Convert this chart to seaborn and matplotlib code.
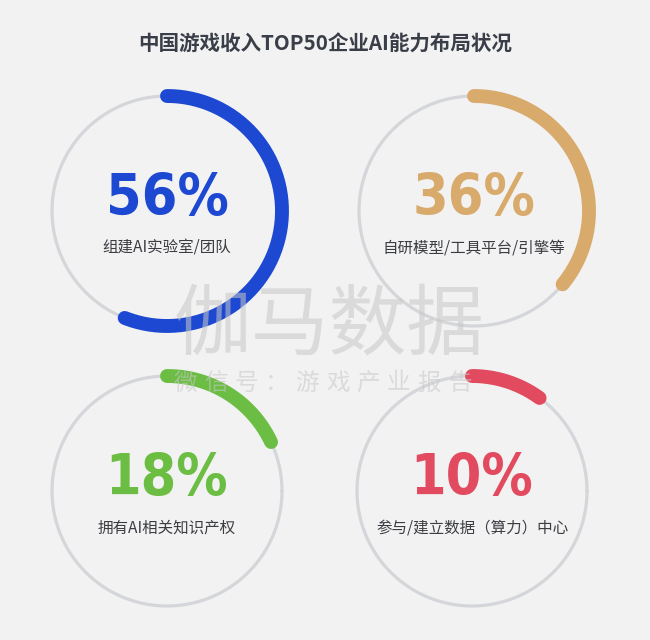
import numpy as np
import pandas as pd
import matplotlib
matplotlib.use("Agg")
import matplotlib.pyplot as plt
import seaborn as sns

# data
title = "中国游戏收入TOP50企业AI能力布局状况"
percents = [56, 36, 18, 10]
labels = ["组建AI实验室/团队", "自研模型/工具平台/引擎等",
          "拥有AI相关知识产权", "参与/建立数据（算力）中心"]
colors = ["#1d48d2", "#d8aa6c", "#6cbd43", "#e14a5f"]
watermark = "伽马数据"
watermark_sub = "微信号：游戏产业报告"

sns.set_theme(style="white")
plt.rcParams['font.family'] = ['Noto Sans CJK SC', 'DejaVu Sans']

bg = "#f2f2f2"
fig = plt.figure(figsize=(6.5, 6.4), dpi=100, facecolor=bg)
ax = fig.add_axes([0, 0, 1, 1])
ax.set_facecolor(bg)
ax.set_xlim(0, 650)
ax.set_ylim(640, 0)
ax.axis('off')

centers = [(167, 211), (474, 211), (167, 491), (472, 491)]
radius = 115

for (cx, cy), p, lab, col in zip(centers, percents, labels, colors):
    # full gray ring
    t = np.linspace(0, 2 * np.pi, 361)
    ring = pd.DataFrame({'x': cx + radius * np.cos(t), 'y': cy - radius * np.sin(t)})
    sns.lineplot(data=ring, x='x', y='y', sort=False, estimator=None, ax=ax,
                 color="#d4d6da", linewidth=2.3, zorder=1)
    # progress arc, clockwise from 12 o'clock
    a = np.pi / 2 - np.linspace(0, 2 * np.pi * p / 100, 200)
    arc = pd.DataFrame({'x': cx + radius * np.cos(a), 'y': cy - radius * np.sin(a)})
    sns.lineplot(data=arc, x='x', y='y', sort=False, estimator=None, ax=ax,
                 color=col, linewidth=10, solid_capstyle='round', zorder=3)
    ax.text(cx, cy - 11, f"{p}%", ha='center', va='center', color=col,
            fontsize=41, fontweight='bold', fontstretch='condensed',
            family=['DejaVu Sans'], zorder=4)
    ax.text(cx, cy + 37, lab, ha='center', va='center', color="#3b3d42",
            fontsize=11.2, zorder=4)

ax.text(325, 44, title, ha='center', va='center', color="#3a3e48",
        fontsize=14.8, fontweight='bold', zorder=4)

# watermark
ax.text(329, 327, watermark, ha='center', va='center', color="#c8c8c8",
        fontsize=56, fontweight='light', alpha=0.55, zorder=5)
xs = np.linspace(185, 460, len(watermark_sub))
for x, ch in zip(xs, watermark_sub):
    ax.text(x, 383, ch, ha='center', va='center', color="#c8c8c8",
            fontsize=17, fontweight='light', alpha=0.55, zorder=5)

fig.savefig("out.png", dpi=100, facecolor=bg)
